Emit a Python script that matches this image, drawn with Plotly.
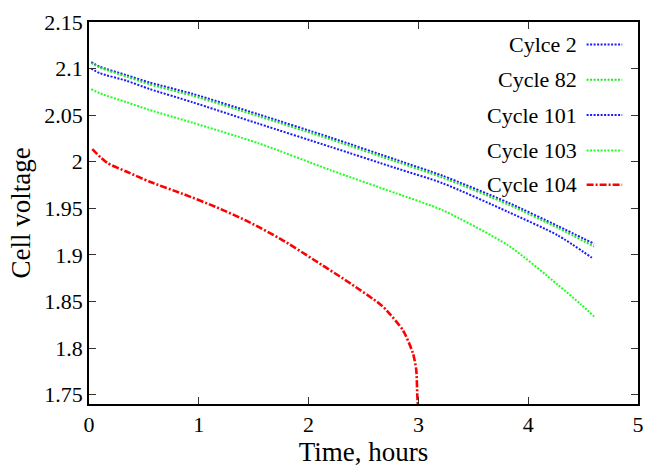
import plotly.graph_objects as go

# Data
t_c2 = [0.02, 0.1, 0.34, 0.554, 0.94, 1.54, 2.2, 2.80, 3.22, 3.82, 4.27, 4.60]
v_c2 = [2.107, 2.102, 2.093, 2.085, 2.073, 2.051, 2.026, 2.002, 1.985, 1.956, 1.931, 1.912]

t_c82 = [0.02, 0.1, 0.34, 0.554, 0.94, 1.54, 2.2, 2.80, 3.22, 3.82, 4.27, 4.60]
v_c82 = [2.106, 2.101, 2.0915, 2.083, 2.071, 2.049, 2.024, 2.000, 1.983, 1.954, 1.929, 1.909]

t_c101 = [0.02, 0.1, 0.34, 0.554, 0.94, 1.54, 2.2, 2.80, 3.22, 3.82, 4.27, 4.58]
v_c101 = [2.100, 2.095, 2.087, 2.078, 2.064, 2.041, 2.016, 1.993, 1.977, 1.946, 1.921, 1.897]

t_c103 = [0.02, 0.1, 0.34, 0.554, 0.94, 1.54, 2.2, 2.80, 3.22, 3.82, 4.27, 4.48, 4.60]
v_c103 = [2.078, 2.0735, 2.064, 2.0555, 2.042, 2.020, 1.991, 1.966, 1.948, 1.910, 1.868, 1.847, 1.834]

t_c104 = [0.03, 0.164, 0.34, 0.554, 0.854, 1.154, 1.454, 1.754, 2.054, 2.354, 2.654, 2.714, 2.86, 2.95, 2.98, 2.99, 2.995]
v_c104 = [2.0135, 1.999, 1.9895, 1.9785, 1.9655, 1.9515, 1.9355, 1.9165, 1.8943, 1.8715, 1.8469, 1.840, 1.819, 1.7945, 1.777, 1.749, 1.74]

series_names = ["Cylce 2", "Cycle 82", "Cycle 101", "Cycle 103", "Cycle 104"]
series_t = [t_c2, t_c82, t_c101, t_c103, t_c104]
series_v = [v_c2, v_c82, v_c101, v_c103, v_c104]
series_colors = ["#1a1aff", "#22e622", "#1a1aff", "#22ff22", "#ff0000"]
series_dash = ["2px,1.5px", "2px,1.5px", "2px,1.5px", "2px,1.5px", "7px,2px,2px,2px"]
series_width = [2, 2, 2, 2, 2.6]

x_ticks = [0, 1, 2, 3, 4, 5]
y_ticks = [1.75, 1.8, 1.85, 1.9, 1.95, 2.0, 2.05, 2.1, 2.15]
y_tick_labels = ["1.75", "1.8", "1.85", "1.9", "1.95", "2", "2.05", "2.1", "2.15"]

FONT = "Liberation Serif, Times New Roman, serif"

fig = go.Figure()
for name, t, v, c, d, w in zip(series_names, series_t, series_v, series_colors, series_dash, series_width):
    fig.add_trace(go.Scatter(x=t, y=v, mode="lines", name=name,
                             line=dict(color=c, dash=d, width=w, shape="spline", smoothing=0.7),
                             showlegend=False))

# Gnuplot-style legend: right-aligned text, line sample to the right
L, R, T, B = 88.5, 644.0, 22.0, 411.7
W, H = R - L, B - T
def px(x):
    return (x - L) / W
def py(y):
    return (B - y) / H

rows_y = [45, 81, 117, 153, 188]
for name, c, d, w, yy in zip(series_names, series_colors, series_dash, series_width, rows_y):
    fig.add_annotation(x=px(584), y=py(yy), xref="paper", yref="paper",
                       text=name, showarrow=False, xanchor="right", yanchor="middle",
                       font=dict(family=FONT, size=22, color="black"))
    fig.add_shape(type="line", xref="paper", yref="paper",
                  x0=px(592), x1=px(628), y0=py(yy), y1=py(yy),
                  line=dict(color=c, dash=d, width=w))

fig.update_layout(
    width=652, height=468,
    margin=dict(l=L, r=652 - R, t=T, b=468 - B),
    paper_bgcolor="white", plot_bgcolor="white",
    font=dict(family=FONT, size=21, color="black"),
    showlegend=False,
)
fig.update_xaxes(range=[0, 5], tickvals=x_ticks, ticks="inside", ticklen=7, tickwidth=1,
                 tickcolor="#333", showline=True, linecolor="black", linewidth=1.5,
                 mirror="ticks", showgrid=False, zeroline=False,
                 title=dict(text="Time, hours", font=dict(family=FONT, size=27), standoff=4),
                 tickfont=dict(family=FONT, size=22))
fig.update_yaxes(range=[1.74, 2.15], tickvals=y_ticks, ticktext=y_tick_labels, ticks="inside",
                 ticklen=7, tickwidth=1, tickcolor="#333", showline=True, linecolor="black",
                 linewidth=1.5, mirror="ticks", showgrid=False, zeroline=False,
                 title=dict(text="Cell voltage", font=dict(family=FONT, size=27), standoff=6),
                 tickfont=dict(family=FONT, size=22))

fig.write_html("out.html")
